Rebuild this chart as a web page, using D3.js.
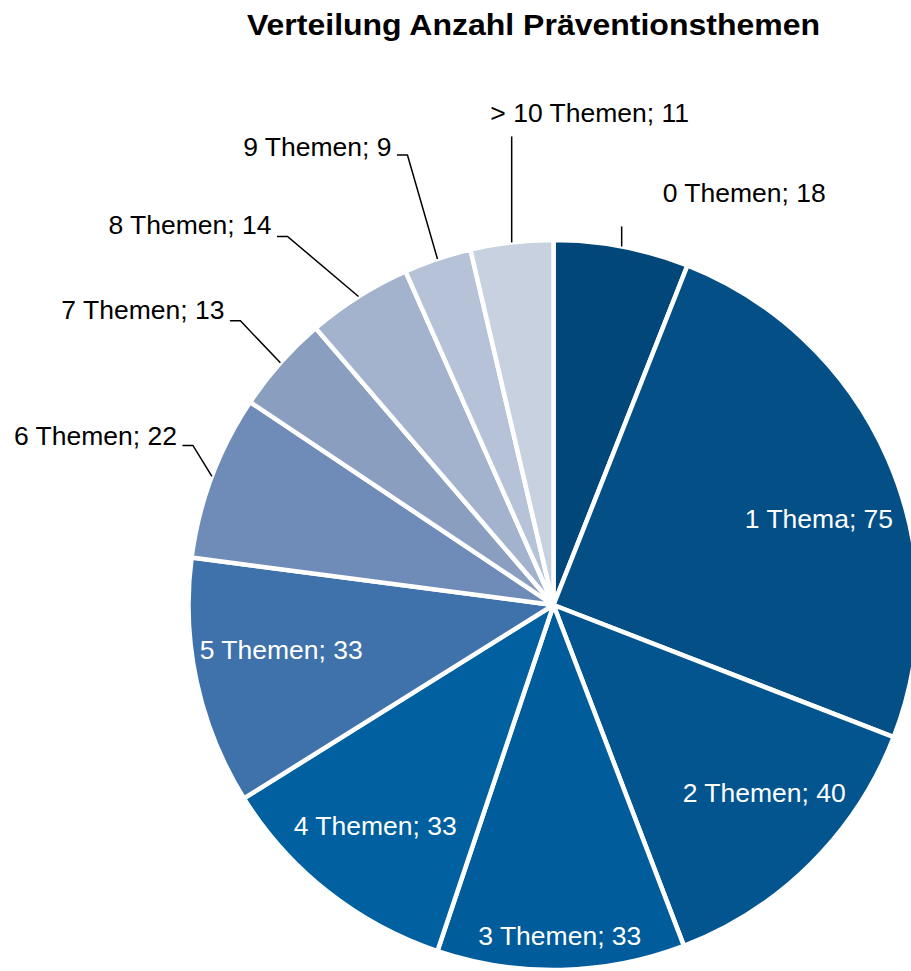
<!DOCTYPE html>
<html>
<head>
<meta charset="utf-8">
<script src="https://cdn.jsdelivr.net/npm/d3@7/dist/d3.min.js"></script>
<style>
  html, body { margin: 0; padding: 0; background: #fff; }
  svg { display: block; font-family: "Liberation Sans", Arial, sans-serif; }
</style>
</head>
<body>
<script>
// Anzahl der Präventionsthemen je Einrichtung
const categories = ["0 Themen", "1 Thema", "2 Themen", "3 Themen", "4 Themen", "5 Themen",
                    "6 Themen", "7 Themen", "8 Themen", "9 Themen", "> 10 Themen"];
const counts = [18, 75, 40, 33, 33, 33, 22, 13, 14, 9, 11];
const sliceColors = ["#01477a", "#034f86", "#02558f", "#005c9b", "#0060a0", "#3f72ab",
                     "#6f8bb7", "#8a9fc0", "#a3b2cd", "#b6c2d8", "#c8d1e0"];
const title = "Verteilung Anzahl Präventionsthemen";

const W = 911, H = 971;
const cx = 553.5, cy = 605, R = 365;
const labelFont = 26.5;

// Inside labels (white text): position of the text centre as
// [angle shift from the slice's mid-angle in degrees, distance from the centre].
const insideLayout = {
  "1 Thema":  [5.7, 279],
  "2 Themen": [-3.5, 282],
  "3 Themen": [0.1, 331],
  "4 Themen": [0.6, 284],
  "5 Themen": [2.9, 276]
};

// Leader-line layout for outside labels: elbow offset from the slice's arc midpoint,
// and how the text sits relative to that elbow.
const leaderLayout = {
  "0 Themen":    { elbow: [0, -20],    kind: "up",   text: [41, -24],   anchor: "start" },
  "> 10 Themen": { elbow: [0, -106],   kind: "up",   text: [78, -14.5], anchor: "middle" },
  "9 Themen":    { elbow: [-30, -104], kind: "left", text: [-16, 1.5],  anchor: "end" },
  "8 Themen":    { elbow: [-71, -60],  kind: "left", text: [-16, -2],   anchor: "end" },
  "7 Themen":    { elbow: [-40, -42],  kind: "left", text: [-16, -1.5], anchor: "end" },
  "6 Themen":    { elbow: [-19, -31],  kind: "left", text: [-16, 0],    anchor: "end" }
};

const data = categories.map((c, i) => ({ category: c, count: counts[i], color: sliceColors[i] }));

const svg = d3.select("body").append("svg").attr("width", W).attr("height", H);

svg.append("text")
  .attr("x", 533.5).attr("y", 34.5)
  .attr("text-anchor", "middle")
  .attr("font-size", 30).attr("font-weight", "bold")
  .attr("textLength", 573).attr("lengthAdjust", "spacingAndGlyphs")
  .attr("fill", "#000")
  .text(title);

const pie = d3.pie().sort(null).value(d => d.count).startAngle(0).endAngle(2 * Math.PI);
const arcs = pie(data);
const arc = d3.arc().innerRadius(0).outerRadius(R);

const g = svg.append("g").attr("transform", `translate(${cx},${cy})`);

g.selectAll("path.slice")
  .data(arcs)
  .join("path")
  .attr("class", "slice")
  .attr("d", arc)
  .attr("fill", d => d.data.color)
  .attr("stroke", "#fff")
  .attr("stroke-width", 4.5)
  .attr("stroke-linejoin", "round");

const labelText = d => `${d.data.category}; ${d.data.count}`;
const midAngle = d => (d.startAngle + d.endAngle) / 2;

// Inside labels
const inner = g.append("g");
arcs.filter(d => insideLayout[d.data.category]).forEach(d => {
  const [shift, r] = insideLayout[d.data.category];
  const a = midAngle(d) + shift * Math.PI / 180;
  inner.append("text")
    .attr("x", Math.sin(a) * r)
    .attr("y", -Math.cos(a) * r + labelFont * 0.35)
    .attr("font-size", labelFont)
    .attr("fill", "#fff")
    .attr("text-anchor", "middle")
    .text(labelText(d));
});

// Outside labels with leader lines
const outer = g.append("g");
const edgeArc = d3.arc().innerRadius(R).outerRadius(R);
arcs.filter(d => leaderLayout[d.data.category]).forEach(d => {
  const lay = leaderLayout[d.data.category];
  const [px, py] = edgeArc.centroid(d);
  const ex = px + lay.elbow[0], ey = py + lay.elbow[1];
  const pts = lay.kind === "left"
    ? [[px, py], [ex, ey], [ex - 10.5, ey]]
    : [[px, py], [px, ey]];
  outer.append("path")
    .attr("d", d3.line()(pts))
    .attr("fill", "none")
    .attr("stroke", "#000")
    .attr("stroke-width", 1.5);
  outer.append("text")
    .attr("x", ex + lay.text[0])
    .attr("y", ey + lay.text[1])
    .attr("text-anchor", lay.anchor)
    .attr("font-size", labelFont)
    .attr("fill", "#000")
    .text(labelText(d));
});
</script>
</body>
</html>
